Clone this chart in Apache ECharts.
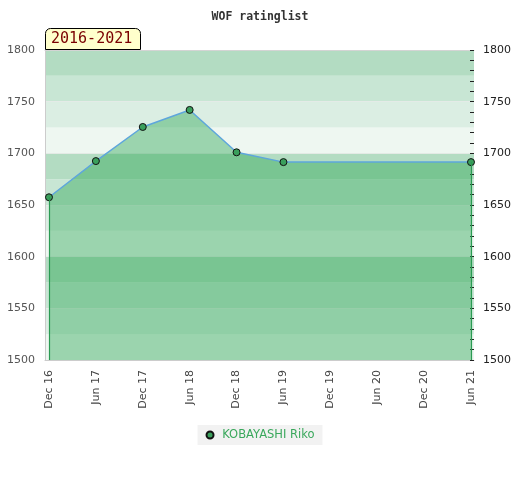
<!DOCTYPE html>
<html>
<head>
<meta charset="utf-8">
<script src="https://cdn.jsdelivr.net/npm/echarts@6.0.0/dist/echarts.min.js"></script>
<style>
  html, body { margin: 0; padding: 0; background: #fff; }
  #chart { width: 520px; height: 480px; }
</style>
</head>
<body>
<div id="chart"></div>
<script>
// WOF rating history, half-year steps
const categories = ['Dec 16', 'Jun 17', 'Dec 17', 'Jun 18', 'Dec 18', 'Jun 19', 'Dec 19', 'Jun 20', 'Dec 20', 'Jun 21']
const ratings = [1657.5, 1692.5, 1725.5, 1742, 1701, 1691.5, null, null, null, 1691.5]
const playerName = 'KOBAYASHI Riko'
const periodLabel = '2016-2021'
const yMin = 1500, yMax = 1800

// band colours from the bottom up, repeating every 100 points
const bandColors = ['#eef7f1', '#dbeee3', '#c8e6d4', '#b3dcc2']

const points = ratings.map((v, i) => [i, v]).filter(p => p[1] != null)
const last = categories.length - 1

const chart = echarts.init(document.getElementById('chart'), null, { renderer: 'canvas' })

chart.setOption({
  animation: false,
  title: [
    {
      text: 'WOF ratinglist', left: 'center', top: 6,
      textStyle: { fontFamily: 'DejaVu Sans Mono', fontSize: 11.5, fontWeight: 'bold', color: '#333' },
    },
    {
      text: periodLabel, left: 45, top: 28,
      backgroundColor: '#ffffcc', borderColor: '#000', borderWidth: 1,
      borderRadius: [5, 5, 0, 0], padding: [3, 8, 2, 6],
      textStyle: { fontFamily: 'DejaVu Sans Mono', fontSize: 15, fontWeight: 'normal', color: '#7a0000', lineHeight: 17 },
    },
  ],
  legend: {
    bottom: 35, left: 'center',
    backgroundColor: '#f2f2f2', padding: [4, 8, 4, 8],
    icon: 'circle', itemWidth: 7, itemHeight: 7, itemGap: 8,
    formatter: n => ' ' + n,
    textStyle: { fontFamily: 'DejaVu Sans', fontSize: 11.5, color: '#3aa85c' },
    data: [playerName],
  },
  grid: { left: 45, right: 46, top: 50, bottom: 120 },
  xAxis: [
    {
      type: 'value', min: -0.085, max: last + 0.064,
      axisLine: { show: true, onZero: false, lineStyle: { color: '#cccccc' } },
      axisTick: { show: false },
      splitLine: { show: false },
      axisLabel: {
        customValues: categories.map((_, i) => i),
        formatter: v => categories[v] || '',
        rotate: 90, margin: 10,
        fontFamily: 'DejaVu Sans', fontSize: 11, color: '#444',
      },
    },
    {
      type: 'value', position: 'top', min: -0.085, max: last + 0.064,
      axisLine: { show: true, onZero: false, lineStyle: { color: '#d4d4d4' } },
      axisTick: { show: false }, axisLabel: { show: false }, splitLine: { show: false },
    },
  ],
  yAxis: [
    {
      type: 'value', min: yMin, max: yMax, interval: 25,
      axisLine: { show: true, onZero: false, lineStyle: { color: '#cccccc' } },
      axisTick: { show: false },
      minorTick: { show: false },
      splitLine: { show: false },
      splitArea: { show: true, areaStyle: { color: bandColors } },
      axisLabel: {
        formatter: v => (v % 50 === 0 ? String(v) : ''),
        margin: 10, fontFamily: 'DejaVu Sans', fontSize: 11, color: '#555',
      },
    },
    {
      type: 'value', position: 'right', min: yMin, max: yMax, interval: 50,
      axisLine: { show: false, onZero: false },
      axisTick: { show: true, inside: true, length: 4, lineStyle: { color: '#222' } },
      minorTick: { show: true, splitNumber: 5, length: 4, lineStyle: { color: '#222' } },
      splitLine: { show: true, lineStyle: { color: 'rgba(235,235,235,0.7)' } },
      axisLabel: { margin: 9, formatter: v => String(v), fontFamily: 'DejaVu Sans', fontSize: 11, color: '#222' },
    },
  ],
  series: [{
    name: playerName,
    type: 'line',
    data: points,
    symbol: 'circle', symbolSize: 7,
    itemStyle: { color: '#3a9f5c', borderColor: '#111', borderWidth: 1 },
    lineStyle: { color: '#5ea6dc', width: 1.5 },
    areaStyle: { color: 'rgba(40,164,82,0.42)', opacity: 1, origin: 'start' },
    markLine: {
      silent: true, symbol: 'none', label: { show: false },
      emphasis: { disabled: true },
      lineStyle: { color: '#2a9a52', width: 1.2, type: 'solid', opacity: 1 },
      data: [
        [{ coord: [0, yMin] }, { coord: [0, ratings[0]] }],
        [{ coord: [last, yMin] }, { coord: [last, ratings[last]] }],
      ],
    },
  }],
})
</script>
</body>
</html>
